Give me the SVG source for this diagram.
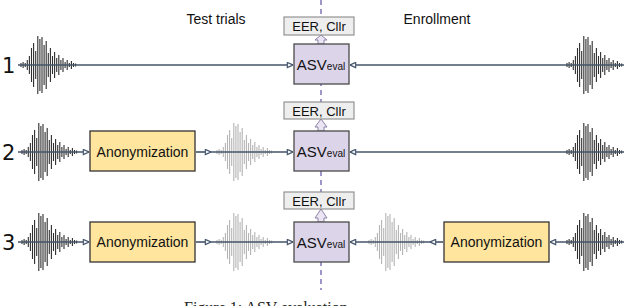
<svg xmlns="http://www.w3.org/2000/svg" xmlns:xlink="http://www.w3.org/1999/xlink" width="624" height="306" viewBox="0 0 624 306">
<style>
.lbl{font-family:"Liberation Sans",Arial,sans-serif;fill:#111}
.num{font-family:"DejaVu Sans","Liberation Sans",sans-serif;font-size:21px;fill:#111}
.asv{fill:#dcd4e9;stroke:#4a4a4a;stroke-width:1.3}
.eer{fill:#eeeeee;stroke:#8a8a8a;stroke-width:1.1}
.anon{fill:#ffe59e;stroke:#333;stroke-width:1.3}
.conn{stroke:#44546a;stroke-width:1.6;fill:none}
.up{fill:#ece6f4;stroke:#8d82a8;stroke-width:1}
.dk{stroke:#2e2e2e;stroke-width:1.1}
.lt{stroke:#b4b4b4;stroke-width:1.1}
</style>
<defs>
<marker id="ah" viewBox="0 0 8 8" refX="7.5" refY="4" markerWidth="7" markerHeight="7" markerUnits="userSpaceOnUse" orient="auto">
<path d="M1,1 L7.5,4 L1,7 Z" fill="#f4f6fa" stroke="#44546a" stroke-width="1.3"/>
</marker>
<path id="wave" d="M0,-2V2M2.1,-3V3M4.2,-2V2M6.3,-5V5M8.4,-9V9M10.5,-17V17M12.6,-22V22M14.7,-14V14M16.8,-29V29M18.9,-26V26M21,-28V28M23.1,-20V20M25.2,-24V24M27.3,-12V12M29.4,-17V17M31.5,-9V9M33.6,-13V13M35.7,-7V7M37.8,-10V10M39.9,-5V5M42,-7V7M44.1,-3V3M46.2,-5V5M48.3,-2V2M50.4,-4V4M52.5,-2V2M54.6,-1.5V1.5"/>
</defs>
<rect width="624" height="306" fill="#ffffff"/>

<g id="header">
<text class="lbl" x="216" y="24" font-size="14" text-anchor="middle">Test trials</text>
<text class="lbl" x="437" y="24" font-size="14" text-anchor="middle">Enrollment</text>
<line x1="321" y1="0" x2="321" y2="290" stroke="#6f5fae" stroke-width="1.3" stroke-dasharray="5 4"/>
</g>

<g id="numbers">
<text class="num" x="2" y="73">1</text>
<text class="num" x="2" y="160">2</text>
<text class="num" x="2" y="250">3</text>
</g>

<g id="waves">
<use xlink:href="#wave" x="21" y="65" class="dk"/>
<use xlink:href="#wave" x="567" y="65" class="dk"/>
<use xlink:href="#wave" x="22" y="152" class="dk"/>
<use xlink:href="#wave" x="567" y="152" class="dk"/>
<use xlink:href="#wave" x="22" y="242" class="dk"/>
<use xlink:href="#wave" x="567" y="242" class="dk"/>
<use xlink:href="#wave" x="217" y="152" class="lt"/>
<use xlink:href="#wave" x="217" y="242" class="lt"/>
<use xlink:href="#wave" x="369" y="242" class="lt"/>
</g>

<g id="connectors">
<line class="conn" x1="18" y1="65" x2="293" y2="65" marker-end="url(#ah)"/>
<line class="conn" x1="624" y1="65" x2="350" y2="65" marker-end="url(#ah)"/>
<line class="conn" x1="18" y1="152" x2="89" y2="152" marker-end="url(#ah)"/>
<line class="conn" x1="196" y1="152" x2="211" y2="152" marker-end="url(#ah)"/>
<line class="conn" x1="211" y1="152" x2="293" y2="152" marker-end="url(#ah)"/>
<line class="conn" x1="624" y1="152" x2="350" y2="152" marker-end="url(#ah)"/>
<line class="conn" x1="18" y1="242" x2="89" y2="242" marker-end="url(#ah)"/>
<line class="conn" x1="196" y1="242" x2="211" y2="242" marker-end="url(#ah)"/>
<line class="conn" x1="211" y1="242" x2="293" y2="242" marker-end="url(#ah)"/>
<line class="conn" x1="443" y1="242" x2="430" y2="242" marker-end="url(#ah)"/>
<line class="conn" x1="430" y1="242" x2="350" y2="242" marker-end="url(#ah)"/>
<line class="conn" x1="624" y1="242" x2="550" y2="242" marker-end="url(#ah)"/>
<path class="up" d="M318,44V40H315L321,35L327,40H324V44Z"/>
<path class="up" d="M318,131V127H315L321,119L327,127H324V131Z"/>
<path class="up" d="M318,222V218H315L321,209L327,218H324V222Z"/>
</g>

<g id="eer1"><rect class="eer" x="284" y="17" width="70" height="18"/><text class="lbl" x="319" y="31" font-size="13" text-anchor="middle">EER, Cllr</text></g>
<g id="eer2"><rect class="eer" x="284" y="102" width="70" height="17"/><text class="lbl" x="319" y="115.5" font-size="13" text-anchor="middle">EER, Cllr</text></g>
<g id="eer3"><rect class="eer" x="284" y="192" width="70" height="17"/><text class="lbl" x="319" y="205.5" font-size="13" text-anchor="middle">EER, Cllr</text></g>

<g id="asv1"><rect class="asv" x="294" y="44" width="55" height="40"/><text class="lbl" x="321" y="70" font-size="15" text-anchor="middle">ASV<tspan font-size="10">eval</tspan></text></g>
<g id="asv2"><rect class="asv" x="294" y="131" width="55" height="40"/><text class="lbl" x="321" y="157" font-size="15" text-anchor="middle">ASV<tspan font-size="10">eval</tspan></text></g>
<g id="asv3"><rect class="asv" x="294" y="222" width="55" height="40"/><text class="lbl" x="321" y="248" font-size="15" text-anchor="middle">ASV<tspan font-size="10">eval</tspan></text></g>

<g id="anon2"><rect class="anon" x="90" y="131" width="105" height="40"/><text class="lbl" x="142.5" y="157" font-size="14" text-anchor="middle">Anonymization</text></g>
<g id="anon3l"><rect class="anon" x="90" y="222" width="105" height="40"/><text class="lbl" x="142.5" y="247" font-size="14" text-anchor="middle">Anonymization</text></g>
<g id="anon3r"><rect class="anon" x="444" y="222" width="105" height="40"/><text class="lbl" x="496.5" y="247" font-size="14" text-anchor="middle">Anonymization</text></g>

<g id="caption"><text x="184" y="313" font-family="'Liberation Serif',serif" font-size="16" fill="#222">Figure 1: ASV evaluation</text></g>
</svg>
